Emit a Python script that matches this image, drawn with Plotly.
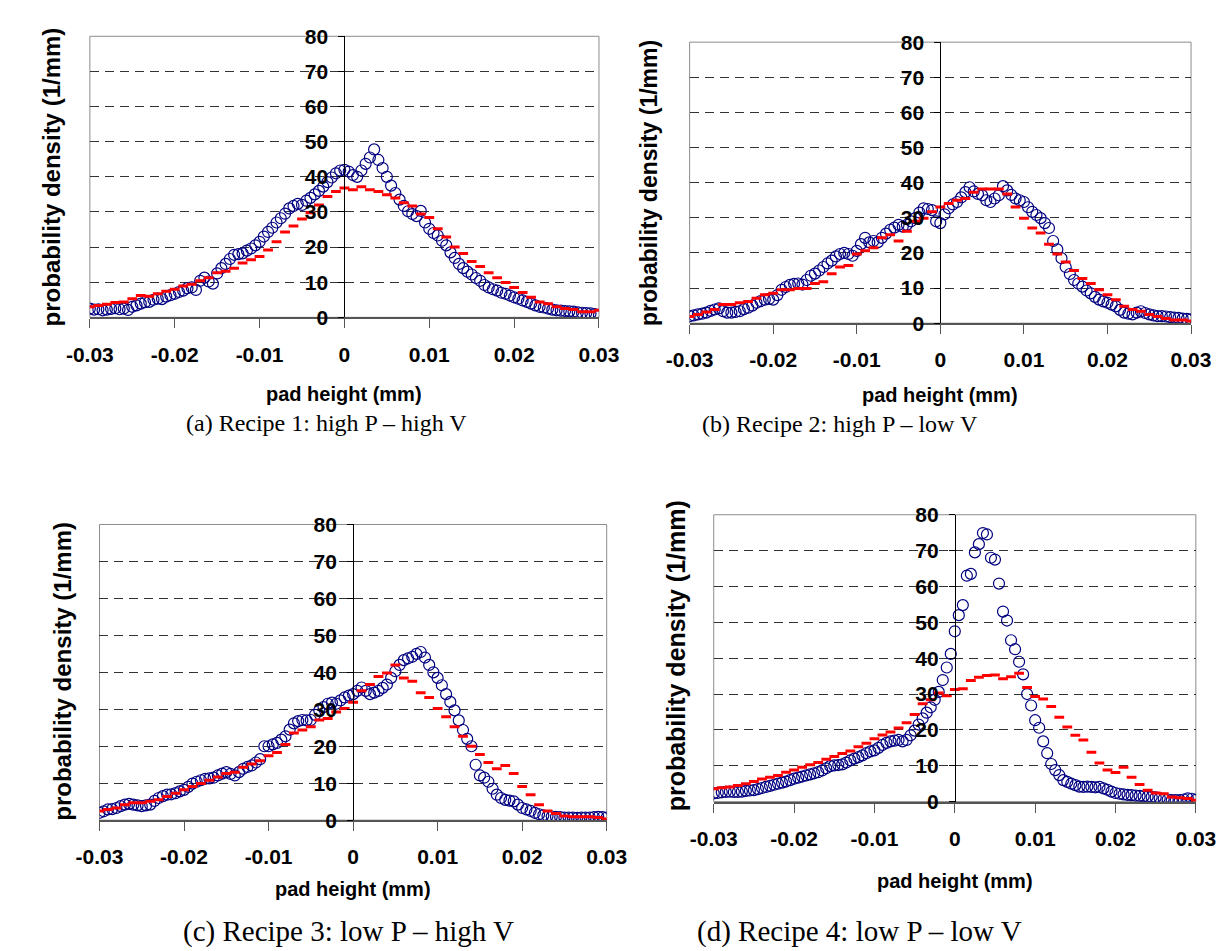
import plotly.graph_objects as go

W, H = 1231, 951

# pad height bin centres (mm)
pad_height_fine = [round(-0.03 + 0.0005 * i, 4) for i in range(121)]   # measured
pad_height_coarse = [round(-0.03 + 0.001 * i, 3) for i in range(61)]   # simulated

# ---------------- Recipe 1 ----------------
r1_measured = [2.5, 2.2, 2.3, 2.0, 2.2, 2.4, 2.6, 2.3, 2.5, 2.1,
               3.0, 3.4, 3.9, 4.3, 4.4, 5.0, 5.3, 5.2, 5.9, 6.3,
               6.7, 7.2, 7.6, 8.3, 8.5, 7.8, 10.4, 11.3, 10.2, 9.6,
               12.5, 14.0, 15.2, 16.6, 17.8, 18.0, 18.2, 19.0, 19.6, 20.5,
               21.5, 23.0, 24.3, 25.5, 27.0, 28.2, 29.5, 31.0, 31.7, 32.3,
               32.0, 33.2, 34.0, 35.0, 36.0, 37.2, 38.5, 39.8, 41.0, 41.8,
               42.0,
               41.5, 40.5, 40.0, 41.8, 43.7, 45.5, 47.8, 44.8, 42.5, 40.0,
               37.5, 35.4, 33.5, 31.7, 30.2, 29.4, 28.8, 30.3, 27.0, 25.2,
               24.0, 23.3, 21.8, 20.5, 18.5, 16.9, 15.2, 14.0, 13.0, 12.2,
               11.2, 10.4, 9.2, 8.5, 8.0, 7.6, 7.0, 6.7, 6.2, 5.7,
               5.3, 4.8, 4.4, 3.9, 3.4, 3.0, 2.8, 2.5, 2.2, 2.0,
               1.9, 1.8, 1.7, 1.6, 1.4, 1.3, 1.2, 1.1, 0.9, 0.6]
r1_simulated = [3.0, 3.4, 3.7, 4.2, 4.4, 5.3, 6.2, 6.0, 6.7, 7.4,
                8.0, 8.9, 9.4, 10.4, 11.3, 12.7, 13.1, 14.0, 15.5, 16.4,
                17.3, 19.2, 21.5, 24.3, 26.0, 28.0, 29.8, 32.0, 34.4, 35.8,
                36.8,
                36.3, 37.2, 36.3, 35.8, 34.9, 34.0, 32.6, 31.7, 29.4, 28.4,
                25.2, 22.9, 20.0, 18.2, 15.9, 14.5, 12.7, 11.3, 9.9, 8.5,
                7.1, 5.7, 4.4, 3.9, 3.0, 2.5, 2.2, 1.6, 1.6, 2.0]

# ---------------- Recipe 2 ----------------
r2_measured = [2.0, 2.2, 2.5, 2.7, 3.0, 3.5, 3.9, 4.2, 3.4, 3.0,
               3.0, 3.2, 3.4, 4.0, 4.4, 5.0, 5.8, 6.3, 6.7, 6.9,
               6.7, 8.0, 9.5, 10.3, 10.9, 11.2, 11.3, 11.0, 12.3, 13.5,
               14.1, 15.0, 16.0, 17.0, 17.8, 19.0, 19.7, 20.0, 19.7, 19.2,
               20.6, 22.5, 24.3, 23.0, 23.4, 23.0, 24.3, 25.5, 26.6, 27.2,
               28.0, 27.5, 28.0, 29.0, 29.9, 31.5, 32.7, 32.5, 32.2, 29.0,
               28.5,
               31.0, 32.7, 33.8, 34.5, 35.8, 37.3, 38.7, 37.5, 36.8, 36.4,
               35.0, 34.5, 35.5, 36.4, 39.0, 37.8, 36.5, 35.5, 35.0, 34.5,
               33.0, 31.7, 30.8, 29.9, 28.5, 27.1, 23.4, 21.0, 18.5, 16.0,
               14.0, 12.3, 11.3, 10.4, 9.3, 8.5, 7.5, 6.7, 6.2, 5.8,
               5.3, 4.8, 3.8, 3.0, 2.7, 2.5, 3.0, 3.4, 2.9, 2.5,
               2.2, 2.0, 2.0, 1.9, 1.7, 1.6, 1.5, 1.3, 1.2, 1.1]
r2_simulated = [1.9, 2.5, 3.2, 3.9, 5.3, 5.3, 5.8, 6.2, 7.1, 8.1,
                8.5, 9.5, 9.5, 9.9, 9.9, 11.3, 11.8, 14.1, 16.0, 16.4,
                19.7, 20.6, 21.5, 24.3, 25.2, 23.4, 26.2, 29.0, 29.9, 31.7,
                33.1,
                34.1, 35.0, 35.5, 37.3, 38.2, 38.2, 38.2, 36.8, 33.1, 29.9,
                27.1, 25.7, 22.5, 19.7, 17.4, 15.0, 12.7, 11.3, 9.5, 8.1,
                6.7, 4.8, 3.9, 3.4, 2.5, 1.9, 1.3, 0.9, 0.9, 0.6]

# ---------------- Recipe 3 ----------------
r3_measured = [2.0, 2.4, 2.9, 3.0, 3.3, 3.8, 4.2, 4.4, 4.2, 4.0,
               3.8, 4.0, 4.2, 5.2, 6.0, 6.5, 6.9, 7.0, 7.3, 7.8,
               8.2, 9.0, 9.9, 10.4, 10.8, 11.2, 11.3, 11.5, 12.1, 12.6,
               13.0, 12.5, 12.1, 13.0, 13.9, 14.4, 14.8, 15.6, 16.5, 20.0,
               20.0, 20.5, 20.9, 21.8, 22.7, 24.5, 26.2, 26.8, 27.1, 27.0,
               27.1, 28.5, 29.7, 30.6, 31.5, 31.8, 31.5, 32.4, 33.2, 33.7,
               34.1,
               35.0, 35.9, 35.0, 34.1, 34.5, 35.0, 35.8, 36.7, 38.5, 40.3,
               42.0, 43.3, 43.8, 44.2, 45.0, 45.5, 44.0, 42.0, 40.0, 38.5,
               36.5, 34.1, 32.0, 29.7, 27.0, 24.4, 22.0, 20.0, 15.0, 12.1,
               11.5, 10.4, 8.5, 6.9, 6.0, 5.5, 5.3, 5.1, 4.2, 3.3,
               2.9, 2.5, 2.0, 1.6, 1.3, 1.1, 1.0, 0.9, 0.8, 0.7,
               0.7, 0.7, 0.6, 0.7, 0.7, 0.7, 0.8, 0.9, 0.8, 0.7]
r3_simulated = [2.5, 2.9, 3.3, 4.2, 4.7, 4.7, 5.1, 5.5, 6.4, 7.3,
                8.2, 9.1, 9.9, 10.8, 11.7, 12.6, 13.0, 14.3, 15.2, 16.1,
                17.4, 18.3, 20.5, 23.6, 24.4, 25.3, 27.1, 27.5, 29.3, 30.2,
                31.9,
                35.0, 36.7, 38.9, 39.8, 42.0, 38.5, 37.6, 34.5, 33.2, 30.2,
                28.0, 25.3, 22.7, 20.0, 17.8, 15.6, 13.9, 14.8, 12.6, 9.1,
                6.9, 4.2, 2.5, 1.8, 1.1, 0.9, 0.9, 0.9, 0.7, 0.3]

# ---------------- Recipe 4 ----------------
r4_measured = [2.3, 2.4, 2.6, 2.7, 2.8, 2.7, 2.7, 2.8, 3.0, 3.1,
               3.2, 3.5, 3.8, 4.1, 4.4, 4.7, 5.0, 5.3, 5.6, 6.0,
               6.4, 6.7, 7.0, 7.3, 7.6, 7.9, 8.2, 8.7, 9.3, 9.9,
               10.1, 10.2, 10.4, 10.9, 11.5, 12.0, 12.4, 12.9, 13.5, 14.0,
               14.3, 15.0, 15.8, 16.4, 16.8, 17.0, 17.2, 16.8, 17.2, 18.5,
               19.8, 21.5, 23.2, 24.8, 26.3, 28.4, 30.6, 33.9, 37.4, 41.2,
               47.5,
               52.0, 54.8, 63.0, 63.5, 69.5, 71.8, 74.9, 74.5, 68.0, 67.5,
               60.8, 53.0, 50.5, 45.0, 42.5, 39.0, 35.5, 30.0, 26.8, 22.7,
               20.6, 16.8, 13.5, 10.5, 8.8, 7.4, 6.0, 5.5, 5.0, 4.6,
               4.2, 4.1, 4.2, 4.1, 4.0, 4.1, 3.7, 3.3, 2.8, 2.4,
               2.2, 2.0, 1.9, 1.8, 1.7, 1.6, 1.5, 1.4, 1.3, 1.2,
               1.0, 0.8, 0.6, 0.4, 0.4, 0.4, 0.6, 0.9, 0.8, 0.5]
r4_simulated = [3.6, 3.9, 4.1, 4.5, 5.0, 5.6, 6.3, 6.8, 7.3, 8.2,
                8.8, 9.6, 10.3, 10.9, 11.8, 12.6, 13.4, 14.1, 15.3, 16.3,
                17.5, 18.6, 19.4, 20.5, 22.0, 24.3, 27.3, 28.4, 30.3, 29.5,
                31.3,
                31.5, 33.8, 34.7, 35.2, 35.3, 34.3, 34.8, 35.8, 31.8, 29.3,
                28.6, 26.5, 23.5, 20.8, 18.5, 17.2, 13.8, 10.8, 8.8, 8.1,
                9.6, 6.8, 4.8, 3.2, 2.4, 2.2, 1.3, 1.1, 0.9, 0.4]

x_tick_vals = [-0.03, -0.02, -0.01, 0, 0.01, 0.02, 0.03]
x_tick_text = ["-0.03", "-0.02", "-0.01", "0", "0.01", "0.02", "0.03"]
y_tick_vals = [0, 10, 20, 30, 40, 50, 60, 70, 80]

captions = ["(a) Recipe 1: high P \u2013 high V",
            "(b) Recipe 2: high P \u2013 low V",
            "(c) Recipe 3: low P \u2013 high V",
            "(d) Recipe 4: low P \u2013 low V"]
x_title = "pad height (mm)"
y_title = "probability density (1/mm)"

series = [(r1_measured, r1_simulated), (r2_measured, r2_simulated),
          (r3_measured, r3_simulated), (r4_measured, r4_simulated)]

# layout (pixels): plot box left, right, top, bottom and text positions
panels = [
    dict(box=(60, 588, 16.7, 304.7), yt=(20, 161, 24), xt_y=383,
         cap=(305, 413, 24)),
    dict(box=(682, 1202, 22.7, 310.7), yt=(640, 167, 23), xt_y=384,
         cap=(838, 414, 24)),
    dict(box=(70, 596, 517, 820), yt=(32, 667, 24), xt_y=891,
         cap=(328, 934, 29)),
    dict(box=(707, 1207, 507, 801), yt=(668, 652, 25), xt_y=882,
         cap=(858, 934, 29)),
]

def px(x):
    return x / W

def py(y):
    return 1 - y / H

SANS = "Liberation Sans, Arial, Helvetica, sans-serif"
TICK_FONT = dict(family=SANS, size=21, color="black", weight="bold")

fig = go.Figure()
layout = dict(width=W, height=H, autosize=False,
              margin=dict(l=0, r=0, t=0, b=0),
              paper_bgcolor="white", plot_bgcolor="white",
              showlegend=False, annotations=[], shapes=[])

for i, (p, (meas, sim)) in enumerate(zip(panels, series)):
    n = "" if i == 0 else str(i + 1)
    l, r, t, b = p["box"]
    xa, ya = "x" + n, "y" + n
    fig.add_trace(go.Scatter(
        x=pad_height_fine, y=meas, mode="markers", xaxis=xa, yaxis=ya,
        marker=dict(symbol="circle-open", size=11, color="#000080",
                    line=dict(color="#000080", width=1.2))))
    fig.add_trace(go.Scatter(
        x=pad_height_coarse, y=sim, mode="markers", xaxis=xa, yaxis=ya,
        marker=dict(symbol="line-ew", size=7, color="#FF0000",
                    line=dict(color="#FF0000", width=3))))
    layout["xaxis" + n] = dict(
        domain=[px(l), px(r)], range=[-0.03, 0.03], anchor=ya,
        tickvals=x_tick_vals, ticktext=x_tick_text, tickfont=TICK_FONT,
        ticks="outside", ticklen=9, tickcolor="#555555", tickwidth=1,
        ticklabelstandoff=8,
        showline=True, linecolor="#555555", linewidth=2,
        showgrid=False, zeroline=False, fixedrange=True)
    layout["yaxis" + n] = dict(
        domain=[py(b), py(t)], range=[0, 80], anchor="free",
        position=px((l + r) / 2), tickvals=y_tick_vals, tickfont=TICK_FONT,
        ticks="outside", ticklen=6, tickcolor="black", tickwidth=1,
        ticklabelstandoff=6,
        showline=True, linecolor="black", linewidth=1,
        showgrid=True, gridcolor="#333333", gridwidth=1, griddash="9px,6px",
        zeroline=False, fixedrange=True)
    # plot frame (left, right, top)
    layout["shapes"].append(dict(
        type="rect", xref=xa + " domain", yref=ya + " domain",
        x0=0, x1=1, y0=0, y1=1, line=dict(color="#8c8c8c", width=1),
        layer="below"))
    # axis titles and captions
    layout["annotations"].append(dict(
        text=x_title, xref="paper", yref="paper",
        x=px((l + r) / 2), y=py(p["xt_y"]), xanchor="center", yanchor="middle",
        showarrow=False,
        font=dict(family=SANS, size=20, color="black", weight="bold")))
    layout["annotations"].append(dict(
        text=y_title, xref="paper", yref="paper", textangle=-90,
        x=px(p["yt"][0]), y=py(p["yt"][1]), xanchor="center", yanchor="middle",
        showarrow=False,
        font=dict(family=SANS, size=p["yt"][2], color="black", weight="bold")))
    layout["annotations"].append(dict(
        text=captions[i], xref="paper", yref="paper",
        x=px(p["cap"][0]), y=py(p["cap"][1]), xanchor="center", yanchor="middle",
        showarrow=False,
        font=dict(family="Liberation Serif, Times New Roman, serif",
                  size=p["cap"][2], color="black")))

fig.update_layout(**layout)
fig.write_html("out.html")
